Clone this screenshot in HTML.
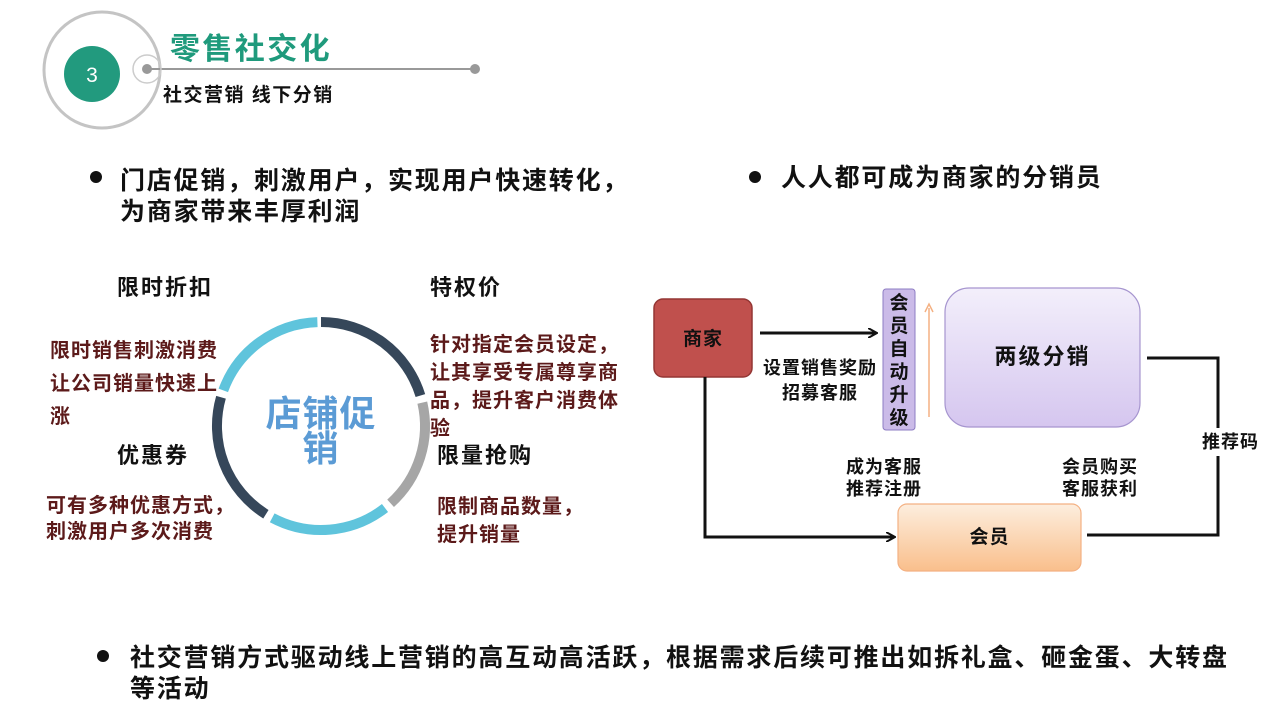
<!DOCTYPE html>
<html><head><meta charset="utf-8"><style>
body{margin:0;width:1281px;height:720px;background:#fff;position:relative;overflow:hidden;font-family:"Liberation Sans","Noto Sans CJK SC",sans-serif;font-weight:bold}
.t{position:absolute;white-space:nowrap;line-height:1}
.r{color:#5c1a1a;font-size:20px;letter-spacing:1px}
.h{font-size:22px;color:#111;letter-spacing:2px}
.b{font-size:25px;color:#111;letter-spacing:1.8px}
.d{font-size:18px;color:#111;letter-spacing:1px}
</style></head><body>
<svg width="1281" height="720" style="position:absolute;left:0;top:0">
<defs>
<linearGradient id="gp" x1="0" y1="0" x2="0" y2="1"><stop offset="0" stop-color="#f3effb"/><stop offset="1" stop-color="#d5c6ef"/></linearGradient>
<linearGradient id="go" x1="0" y1="0" x2="0" y2="1"><stop offset="0" stop-color="#fdeede"/><stop offset="1" stop-color="#f9bf8c"/></linearGradient>
<marker id="ar" markerWidth="10" markerHeight="10" refX="8" refY="5" orient="auto" markerUnits="userSpaceOnUse"><path d="M0,0 L9,5 L0,10" fill="none" stroke="#111" stroke-width="2"/></marker>
</defs>
<circle cx="102" cy="70" r="58" fill="none" stroke="#c4c4c4" stroke-width="3"/>
<circle cx="92" cy="74" r="28" fill="#229a7e"/>
<text x="92" y="82" font-size="21" fill="#fff" text-anchor="middle" font-family="Liberation Sans" font-weight="normal">3</text>
<line x1="147" y1="69" x2="475" y2="69" stroke="#999" stroke-width="2"/>
<circle cx="147" cy="69" r="14" fill="none" stroke="#ccc" stroke-width="1.5"/>
<circle cx="147" cy="69" r="5" fill="#999"/>
<circle cx="475" cy="69" r="5" fill="#999"/>
<circle cx="96" cy="177" r="6" fill="#111"/>
<circle cx="755" cy="177" r="6" fill="#111"/>
<circle cx="103" cy="656" r="6" fill="#111"/>
<g fill="none" stroke-width="10">
<path d="M321,322 A104,104 0 0 1 420.4,395.6" stroke="#36475a"/>
<path d="M422.3,402.6 A104,104 0 0 1 390.6,503.3" stroke="#a6a6a6"/>
<path d="M385,508 A104,104 0 0 1 272.2,517.8" stroke="#5fc4dc"/>
<path d="M265.9,514.2 A104,104 0 0 1 221,397.3" stroke="#36475a"/>
<path d="M223.3,390.4 A104,104 0 0 1 317.4,322.1" stroke="#5fc4dc"/>
</g>
<rect x="654" y="299" width="98" height="78" rx="9" fill="#c0504d" stroke="#943634" stroke-width="1.5"/>
<line x1="760" y1="333" x2="876" y2="333" stroke="#111" stroke-width="3" marker-end="url(#ar)"/>
<rect x="883" y="289" width="32" height="141" rx="3" fill="#cbbbe8" stroke="#8e7cc3" stroke-width="1"/>
<line x1="929" y1="417" x2="929" y2="308" stroke="#f4b183" stroke-width="1.5"/>
<path d="M925,312 L929,304 L933,312" fill="none" stroke="#f4b183" stroke-width="1.5"/>
<rect x="945" y="288" width="195" height="139" rx="24" fill="url(#gp)" stroke="#a695cf" stroke-width="1.2"/>
<polyline points="1147,358 1218,358 1218,428" fill="none" stroke="#111" stroke-width="3"/>
<polyline points="1218,456 1218,535 1087,535" fill="none" stroke="#111" stroke-width="3"/>
<polyline points="705,377 705,537 894,537" fill="none" stroke="#111" stroke-width="3" marker-end="url(#ar)"/>
<rect x="898" y="504" width="183" height="67" rx="9" fill="url(#go)" stroke="#f4b183" stroke-width="1.2"/>
</svg>
<div class="t" style="left:170px;top:35px;font-size:30px;letter-spacing:2.4px;color:#1f9a7c">零售社交化</div>
<div class="t" style="left:163px;top:86px;font-size:19px;letter-spacing:1.5px;color:#111">社交营销 线下分销</div>
<div class="t b" style="left:120px;top:166px;line-height:31px">门店促销，刺激用户，实现用户快速转化，<br>为商家带来丰厚利润</div>
<div class="t b" style="left:781px;top:166px">人人都可成为商家的分销员</div>
<div class="t b" style="left:130px;top:643px;line-height:31px">社交营销方式驱动线上营销的高互动高活跃，根据需求后续可推出如拆礼盒、砸金蛋、大转盘<br>等活动</div>
<div class="t h" style="left:117px;top:277px">限时折扣</div>
<div class="t h" style="left:430px;top:277px">特权价</div>
<div class="t h" style="left:117px;top:445px">优惠券</div>
<div class="t h" style="left:437px;top:445px">限量抢购</div>
<div class="t r" style="left:50px;top:335px;line-height:33px">限时销售刺激消费<br>让公司销量快速上<br>涨</div>
<div class="t r" style="left:430px;top:331px;line-height:28px">针对指定会员设定，<br>让其享受专属尊享商<br>品，提升客户消费体<br>验</div>
<div class="t r" style="left:46px;top:493px;line-height:26px">可有多种优惠方式，<br>刺激用户多次消费</div>
<div class="t r" style="left:437px;top:493px;line-height:28px">限制商品数量，<br>提升销量</div>
<div class="t" style="left:221px;top:396px;width:200px;text-align:center;font-size:36px;letter-spacing:1px;line-height:35px;color:#5b9bd5">店铺促<br>销</div>
<div class="t" style="left:654px;top:330px;width:98px;text-align:center;font-size:19px;letter-spacing:1px;color:#111">商家</div>
<div class="t d" style="left:760px;top:356px;width:120px;text-align:center;line-height:25px">设置销售奖励<br>招募客服</div>
<div class="t" style="left:883px;top:292px;width:32px;text-align:center;font-size:19px;line-height:23px;color:#111">会<br>员<br>自<br>动<br>升<br>级</div>
<div class="t" style="left:945px;top:346px;width:195px;text-align:center;font-size:22px;letter-spacing:2px;color:#111">两级分销</div>
<div class="t d" style="left:1202px;top:433px">推荐码</div>
<div class="t d" style="left:834px;top:456px;width:100px;text-align:center;line-height:22px">成为客服<br>推荐注册</div>
<div class="t d" style="left:1050px;top:456px;width:100px;text-align:center;line-height:22px">会员购买<br>客服获利</div>
<div class="t" style="left:898px;top:528px;width:183px;text-align:center;font-size:19px;letter-spacing:1px;color:#111">会员</div>
</body></html>
